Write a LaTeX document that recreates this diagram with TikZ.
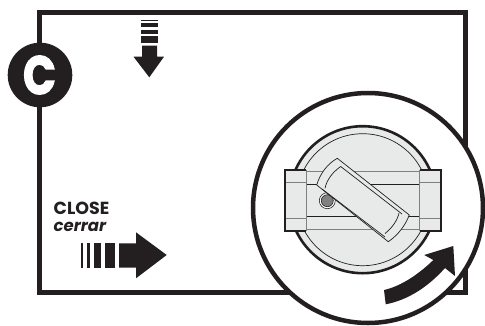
\documentclass[tikz,border=0pt]{standalone}
\usepackage{fontspec}
\setmainfont{Poppins}
\newfontfamily\heavyfont[FakeBold=2.5]{Poppins Bold}
\definecolor{inkdark}{HTML}{231F20}
\definecolor{discgray}{HTML}{E8E9E9}
\tikzset{
  thinline/.style={draw=inkdark,line width=0.7pt},
  railline/.style={draw=gray,line width=0.8pt},
  labeltext/.style={text=inkdark,anchor=west,inner sep=0pt}
}
\begin{document}
\begin{tikzpicture}[x=1pt,y=-1pt]
 \useasboundingbox (0,0) rectangle (485,325);
 \draw[inkdark,line width=5pt] (39.5,12) rectangle (465.5,292.5);
 \fill[inkdark] (40,75) circle (32.3);
 \node[text=white,font=\heavyfont\fontsize{54}{54}\selectfont,inner sep=0pt,xscale=0.8] (letterC) at (39.5,75) {C};
 \foreach \ya/\yb in {20/20.8,23.4/26.8,30/34,36/42.7}
   {\fill[inkdark] (141,\ya) rectangle (158,\yb);}
 \fill[inkdark] (142,45.7)--(157,45.7)--(157,56.7)--(164,56.7)--(149.3,77.3)--(133.5,56.7)--(142,56.7)--cycle;
 \node[labeltext,font=\bfseries\fontsize{17.5}{17.5}\selectfont] (closeLabel) at (53.5,208) {CLOSE};
 \node[labeltext,font=\bfseries\itshape\fontsize{16.5}{16.5}\selectfont] (cerrarLabel) at (53.5,226.5) {cerrar};
 \foreach \xa/\xb in {81/83,87/90,94/100.5,105/115}
   {\fill[inkdark] (\xa,243.3) rectangle (\xb,267.7);}
 \fill[inkdark] (119,243.3)--(136,243.3)--(136,232.3)--(166.7,255)--(136,278.3)--(136,267.7)--(119,267.7)--cycle;
 \draw[inkdark,line width=4.5pt,fill=white] (368,208) circle (115);
 \draw[inkdark,line width=2.6pt,fill=discgray] (362.7,199.7) circle (73.5);
 \draw[thinline] (362.7,199.7) circle (66);
 \fill[discgray] (285,170) rectangle (440.7,230.7);
 \draw[railline] (306,171.7)--(420,171.7) (306,229)--(420,229);
 \draw[thinline] (306,184)--(420,184) (306,216.7)--(420,216.7);
 \draw[railline] (306,170)--(306,230.7) (419.5,170)--(419.5,230.7);
 \draw[railline] (286,182.3)--(306,182.3) (286,218.7)--(306,218.7)
   (420,182.3)--(440,182.3) (420,218.7)--(440,218.7);
 \draw[inkdark,line width=1.6pt] (306,170)--(285,170)--(285,230.7)--(306,230.7)
   (420,170)--(440.7,170)--(440.7,230.7)--(420,230.7);
 \draw[inkdark,line width=0.6pt,fill=white] (327.3,200.7) circle (8);
 \fill[gray,draw=inkdark,line width=0.6pt] (327.3,200.7) circle (6);
 \draw[thinline,fill=discgray] (337.3,158.3)
   .. controls (327,164) and (320,174) .. (316.7,185)
   -- (388.3,241.7)
   .. controls (398,235) and (405,226) .. (409.3,215)--cycle;
 \draw[thinline] (325,188.3) .. controls (327,179) and (333,172) .. (340.7,166.5)
   (385,233.5) .. controls (392,228) and (397,221) .. (399,213.3);
 \draw[thinline] (340.7,166.5)--(402,214) (322,189)--(385,237);
 \fill[inkdark] (384,290) .. controls (402,286) and (420,273) .. (433.3,260)
   -- (424.3,255)--(453.3,246)--(455,276)--(445,268)
   .. controls (428,287) and (408,300) .. (385.7,304.3)--cycle;
\end{tikzpicture}
\end{document}
